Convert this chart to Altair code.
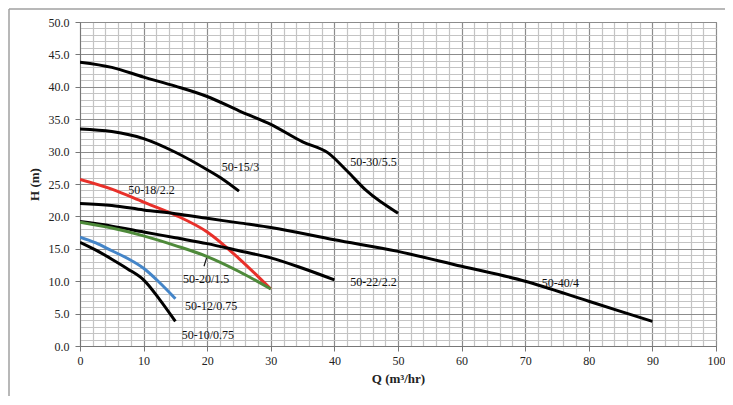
import altair as alt
import pandas as pd

# ---- data ----
names = ["50-30/5.5", "50-15/3", "50-18/2.2", "50-40/4", "50-22/2.2",
         "50-20/1.5", "50-12/0.75", "50-10/0.75"]
colors = ["#000000", "#000000", "#e8302a", "#000000", "#000000",
          "#4e8a3a", "#4485c8", "#000000"]

q_3055 = [0, 5, 10, 15, 20, 25, 30, 35, 39, 42, 45, 50]
h_3055 = [43.8, 43.0, 41.5, 40.1, 38.5, 36.3, 34.2, 31.5, 29.8, 27.0, 24.0, 20.5]

q_153 = [0, 5, 10, 15, 20, 22.5, 25]
h_153 = [33.5, 33.1, 32.0, 29.9, 27.2, 25.7, 23.9]

q_1822 = [0, 5, 10, 15, 20, 25, 30]
h_1822 = [25.7, 24.2, 22.2, 20.2, 17.6, 13.5, 8.8]

q_404 = [0, 5, 10, 15, 20, 25, 30, 40, 50, 60, 70, 80, 90]
h_404 = [22.0, 21.7, 21.0, 20.4, 19.7, 19.0, 18.3, 16.4, 14.6, 12.3, 10.0, 6.9, 3.8]

q_2222 = [0, 5, 10, 15, 20, 25, 30, 35, 40]
h_2222 = [19.2, 18.5, 17.6, 16.7, 15.8, 14.7, 13.6, 12.0, 10.2]

q_2015 = [0, 5, 10, 15, 20, 25, 30]
h_2015 = [19.1, 18.2, 17.0, 15.5, 13.8, 11.5, 8.8]

q_1275 = [0, 2.5, 5, 7.5, 10, 12.5, 15]
h_1275 = [16.8, 15.9, 14.7, 13.5, 12.0, 9.8, 7.3]

q_1075 = [0, 2.5, 5, 7.5, 10, 12.5, 15]
h_1075 = [16.0, 14.8, 13.4, 11.9, 10.2, 7.2, 3.8]

series_q = [q_3055, q_153, q_1822, q_404, q_2222, q_2015, q_1275, q_1075]
series_h = [h_3055, h_153, h_1822, h_404, h_2222, h_2015, h_1275, h_1075]

# label positions (data coords, left-aligned text)
label_q = [42.5, 22.3, 7.6, 72.6, 42.5, 16.2, 16.5, 16.0]
label_h = [28.4, 27.6, 24.0, 9.7, 9.9, 10.3, 6.1, 1.7]

# leader line for 50-20/1.5
lead_q = [19.9, 19.5]
lead_h = [13.6, 12.3]

x_ticks = list(range(0, 101, 2))
y_ticks = list(range(0, 51, 1))

rows = []
for n, qs, hs in zip(names, series_q, series_h):
    for i, (q, h) in enumerate(zip(qs, hs)):
        rows.append({"name": n, "Q": q, "H": h, "order": i})
df = pd.DataFrame(rows)
lab = pd.DataFrame({"name": names, "Q": label_q, "H": label_h})
lead = pd.DataFrame({"Q": [lead_q[0]], "H": [lead_h[0]], "Q2": [lead_q[1]], "H2": [lead_h[1]]})

FONT = "Liberation Serif"
xscale = alt.Scale(domain=[0, 100], nice=False)
yscale = alt.Scale(domain=[0, 50], nice=False)

xaxis = alt.Axis(
    values=x_ticks,
    labelExpr="datum.value % 10 === 0 ? datum.label : ''",
    labelOverlap=False,
    grid=True,
    gridColor={"condition": {"test": "datum.value % 10 === 0", "value": "#8c8c8c"}, "value": "#c4c4c4"},
    gridWidth=1.2,
    tickOpacity={"condition": {"test": "datum.value % 10 === 0", "value": 1}, "value": 0},
    tickColor="#777777", tickSize=5, domainColor="#777777",
    labelFont=FONT, labelFontSize=12, labelColor="#222222", labelPadding=4,
    title="Q (m³/hr)", titleFont=FONT, titleFontSize=13, titleFontWeight="bold",
    titleColor="#222222", titlePadding=6, labelFlush=False,
)
yaxis = alt.Axis(
    values=y_ticks,
    labelExpr="datum.value % 5 === 0 ? format(datum.value, '.1f') : ''",
    labelOverlap=False,
    grid=True,
    gridColor={"condition": {"test": "datum.value % 5 === 0", "value": "#8c8c8c"}, "value": "#c4c4c4"},
    gridWidth=1.2,
    tickOpacity={"condition": {"test": "datum.value % 5 === 0", "value": 1}, "value": 0},
    tickColor="#777777", tickSize=5, domainColor="#777777",
    labelFont=FONT, labelFontSize=12, labelColor="#222222", labelPadding=6,
    title="H (m)", titleFont=FONT, titleFontSize=13, titleFontWeight="bold",
    titleColor="#222222", titlePadding=7, labelFlush=False,
)

lines = alt.Chart(df).mark_line(strokeWidth=3, interpolate="monotone", clip=True).encode(
    x=alt.X("Q:Q", scale=xscale, axis=xaxis),
    y=alt.Y("H:Q", scale=yscale, axis=yaxis),
    color=alt.Color("name:N", scale=alt.Scale(domain=names, range=colors), legend=None),
    detail="name:N",
    order="order:Q",
)

texts = alt.Chart(lab).mark_text(font=FONT, fontSize=12, align="left", baseline="middle",
                                 color="#111111").encode(
    x=alt.X("Q:Q", scale=xscale, axis=xaxis),
    y=alt.Y("H:Q", scale=yscale, axis=yaxis),
    text="name:N",
)

leader = alt.Chart(lead).mark_rule(color="#111111", strokeWidth=1.2).encode(
    x=alt.X("Q:Q", scale=xscale, axis=xaxis), y=alt.Y("H:Q", scale=yscale, axis=yaxis),
    x2="Q2:Q", y2="H2:Q",
)

# outer frame (left and top edges of the picture)
frame_l = alt.Chart(pd.DataFrame({"a": [0]})).mark_rule(color="#a0a0a0", strokeWidth=1.5, clip=False).encode(
    x=alt.value(-71), y=alt.value(-13), y2=alt.value(380))
frame_t = alt.Chart(pd.DataFrame({"a": [0]})).mark_rule(color="#a0a0a0", strokeWidth=1.5, clip=False).encode(
    x=alt.value(-71), x2=alt.value(660), y=alt.value(-13))

chart = alt.layer(lines, leader, texts, frame_l, frame_t).properties(
    width=636, height=324,
    autosize=alt.AutoSizeParams(type="none"),
    padding={"left": 72, "top": 14, "right": 9, "bottom": 50},
    background="white",
).configure_view(stroke="#777777", strokeWidth=1)

chart.save("out.html", embed_options={"renderer": "svg", "actions": False})
